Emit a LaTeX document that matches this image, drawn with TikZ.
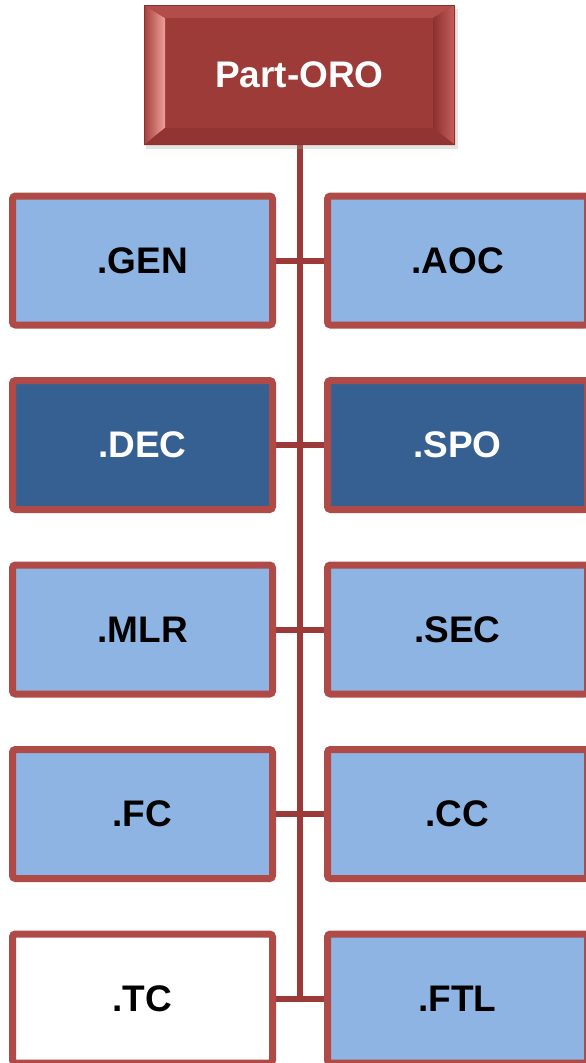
\documentclass[tikz,border=0pt]{standalone}
\usepackage{fontspec}
\setmainfont{Liberation Sans}
\usetikzlibrary{shadows,backgrounds}
\definecolor{bord}{HTML}{B04A47}
\definecolor{conn}{HTML}{9B3A38}
\definecolor{lblue}{HTML}{8EB4E3}
\definecolor{dblue}{HTML}{376092}
\definecolor{topface}{HTML}{9C3B38}
\definecolor{bevlight}{RGB}{239,160,155}
\definecolor{bevouter}{RGB}{165,64,61}
\definecolor{bevtop}{RGB}{178,77,73}
\definecolor{bevdark}{RGB}{140,48,46}
\definecolor{bevright}{RGB}{200,96,92}
\definecolor{bevbot}{RGB}{145,52,50}
\tikzset{
  leafbox/.style={draw=bord, line width=7pt, rounded corners=3pt, fill=lblue,
    minimum width=260pt, minimum height=129pt, inner sep=0pt, outer sep=0pt,
    font=\fontsize{37}{42}\selectfont\bfseries, text=black,
    drop shadow={shadow xshift=1pt, shadow yshift=-3pt, opacity=0.25, fill=black!60}},
  leafdark/.style={leafbox, fill=dblue, text=white},
  leafwhite/.style={leafbox, fill=white},
  topbox/.style={minimum width=311pt, minimum height=140pt, inner sep=0pt, outer sep=0pt,
    font=\fontsize{37}{42}\selectfont\bfseries, text=white},
  link/.style={draw=conn, line width=6pt}
}
\begin{document}
\begin{tikzpicture}[x=1pt,y=-1pt]
\useasboundingbox (0,0) rectangle (586,1063);
% top box with bevel
\fill[black!35, opacity=0.3] (146,9) rectangle (458,149);
\fill[topface] (144,5) rectangle (455,145);
\shade[left color=bevouter, right color=bevlight] (144,5) -- (165,18) -- (165,128) -- (144,145) -- cycle;
\fill[bevtop] (144,5) -- (455,5) -- (433,18) -- (165,18) -- cycle;
\shade[left color=bevdark, right color=bevright] (455,5) -- (455,145) -- (433,128) -- (433,18) -- cycle;
\fill[bevbot] (144,145) -- (455,145) -- (433,128) -- (165,128) -- cycle;
\draw[bevdark, line width=1pt] (144.5,5.5) rectangle (454.5,144.5);
\node[topbox] (top) at (299.5,75) {Part-ORO};
% leaf boxes
\node[leafbox]   (gen) at (142.5,260.5) {.GEN};
\node[leafbox]   (aoc) at (457.5,260.5) {.AOC};
\node[leafdark]  (dec) at (142.5,445) {.DEC};
\node[leafdark]  (spo) at (457.5,445) {.SPO};
\node[leafbox]   (mlr) at (142.5,629.5) {.MLR};
\node[leafbox]   (sec) at (457.5,629.5) {.SEC};
\node[leafbox]   (fc)  at (142.5,814) {.FC};
\node[leafbox]   (cc)  at (457.5,814) {.CC};
\node[leafwhite] (tc)  at (142.5,998.5) {.TC};
\node[leafbox]   (ftl) at (457.5,998.5) {.FTL};
% connectors
\begin{scope}[on background layer]
\coordinate (bot) at (300,998.5);
\draw[link] (top.south -| bot) -- (bot);
\draw[link] (gen.east) -- (aoc.west);
\draw[link] (dec.east) -- (spo.west);
\draw[link] (mlr.east) -- (sec.west);
\draw[link] (fc.east) -- (cc.west);
\draw[link] (tc.east) -- (ftl.west);
\end{scope}
\end{tikzpicture}
\end{document}
